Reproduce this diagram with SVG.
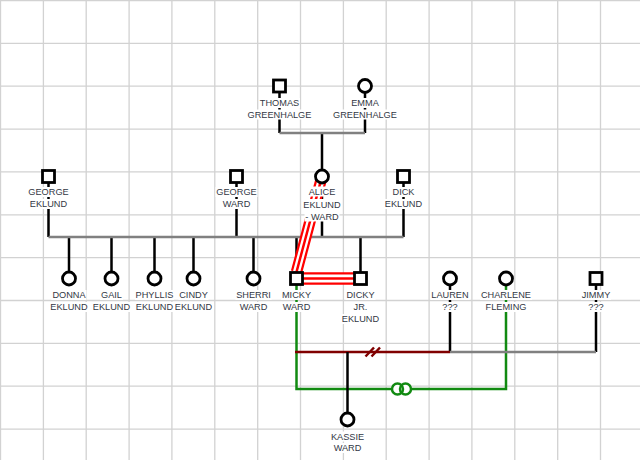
<svg xmlns="http://www.w3.org/2000/svg" width="640" height="460" viewBox="0 0 640 460">
<style>
.grid{stroke:#d2d2d2;stroke-width:1.3;fill:none}
.stem{stroke:#000;stroke-width:2.5;fill:none}
.gray{stroke:#808080;stroke-width:2.5;fill:none}
.green{stroke:#118a11;stroke-width:2.5;fill:none}
.maroon{stroke:#800000;stroke-width:2.5;fill:none}
.node rect.s,.node circle{fill:#fff;stroke:#000;stroke-width:2.8}
.bg{fill:#fff}
text{font-family:"Liberation Sans",Arial,sans-serif;font-size:9.2px;fill:#323844;text-anchor:middle}
</style>
<rect width="640" height="460" fill="#fff"/>
<path class="grid" d="M0.5,0V460M43.4,0V460M86.2,0V460M129.1,0V460M171.9,0V460M214.8,0V460M257.7,0V460M300.5,0V460M343.4,0V460M386.2,0V460M429.1,0V460M471.9,0V460M514.8,0V460M557.7,0V460M600.5,0V460M0,0.5H640M0,43.4H640M0,86.2H640M0,129.1H640M0,171.9H640M0,214.8H640M0,257.7H640M0,300.5H640M0,343.4H640M0,386.2H640M0,429.1H640"/>
<g id="connectors">
<path class="stem" d="M279.5,86V133M365,86V133M322,133V176.5"/>
<path class="gray" d="M279.5,133H365"/>
<path class="stem" d="M48.5,176.5V237M236.5,176.5V237M322,176.5V237M403.5,176.5V237"/>
<path class="stem" d="M69,237V278.5M111.5,237V278.5M154.5,237V278.5M193.5,237V278.5M253.5,237V278.5M296.5,237V278.5M360.5,237V278.5"/>
<path class="gray" d="M48.5,237H403.5"/>
<path class="green" d="M296.5,278.5V389H506V278.5"/>
<path class="stem" d="M450,278.5V352M596,278.5V352"/>
<path class="gray" d="M450,352H596"/>
<path class="maroon" d="M295,352H450"/>
<path class="maroon" d="M365.5,356.5L374,347.5M371.5,356.5L380,347.5"/>
<path class="stem" d="M347.5,352V419.5"/>
<g fill="none">
<path d="M322,176.5L296.5,272" stroke="#f00" stroke-width="11.5"/>
<path d="M322,176.5L296.5,272" stroke="#fff" stroke-width="7"/>
<path d="M322,176.5L296.5,272" stroke="#f00" stroke-width="2.5"/>
<path d="M296.5,278.5H360.5" stroke="#f00" stroke-width="12.5"/>
<path d="M296.5,278.5H360.5" stroke="#fff" stroke-width="8"/>
<path d="M296.5,278.5H360.5" stroke="#f00" stroke-width="2.5"/>
</g>
<circle cx="397.5" cy="389" r="5.5" fill="#fff"/>
<circle cx="405.5" cy="389" r="5.5" fill="#fff"/>
<circle cx="397.5" cy="389" r="5.5" class="green"/>
<circle cx="405.5" cy="389" r="5.5" class="green"/>
</g>
<g id="thomas" class="node"><rect class="s" x="273.5" y="80" width="12" height="12"/>
<rect class="bg" x="259" y="98" width="41" height="10"/><text x="279.5" y="106.2">THOMAS</text>
<rect class="bg" x="247" y="109.5" width="65" height="10"/><text x="279.5" y="117.7">GREENHALGE</text></g>
<g id="emma" class="node"><circle cx="365" cy="86" r="6.5"/>
<rect class="bg" x="350.5" y="98" width="29" height="10"/><text x="365" y="106.2">EMMA</text>
<rect class="bg" x="332.5" y="109.5" width="65" height="10"/><text x="365" y="117.7">GREENHALGE</text></g>
<g id="george-eklund" class="node"><rect class="s" x="42.5" y="170.5" width="12" height="12"/>
<rect class="bg" x="27.5" y="187" width="42" height="10"/><text x="48.5" y="195.2">GEORGE</text>
<rect class="bg" x="29" y="199" width="39" height="10"/><text x="48.5" y="207.2">EKLUND</text></g>
<g id="george-ward" class="node"><rect class="s" x="230.5" y="170.5" width="12" height="12"/>
<rect class="bg" x="215.5" y="187" width="42" height="10"/><text x="236.5" y="195.2">GEORGE</text>
<rect class="bg" x="221.5" y="199" width="30" height="10"/><text x="236.5" y="207.2">WARD</text></g>
<g id="alice" class="node"><circle cx="322" cy="176.5" r="6.5"/>
<rect class="bg" x="308" y="186.5" width="28" height="10"/><text x="322" y="194.7">ALICE</text>
<rect class="bg" x="302.5" y="199" width="39" height="12"/><text x="322" y="207.5">EKLUND</text>
<rect class="bg" x="304.5" y="211" width="35" height="10.5"/><text x="322" y="219.5">- WARD</text></g>
<g id="dick" class="node"><rect class="s" x="397.5" y="170.5" width="12" height="12"/>
<rect class="bg" x="391.5" y="187" width="24" height="10"/><text x="403.5" y="195.2">DICK</text>
<rect class="bg" x="384" y="199" width="39" height="10"/><text x="403.5" y="207.2">EKLUND</text></g>
<g id="donna" class="node"><circle cx="69" cy="278.5" r="6.5"/>
<rect class="bg" x="51.5" y="290" width="35" height="10"/><text x="69" y="298.2">DONNA</text>
<rect class="bg" x="49.5" y="302" width="39" height="10"/><text x="69" y="310.2">EKLUND</text></g>
<g id="gail" class="node"><circle cx="111.5" cy="278.5" r="6.5"/>
<rect class="bg" x="100" y="290" width="23" height="10"/><text x="111.5" y="298.2">GAIL</text>
<rect class="bg" x="92" y="302" width="39" height="10"/><text x="111.5" y="310.2">EKLUND</text></g>
<g id="phyllis" class="node"><circle cx="154.5" cy="278.5" r="6.5"/>
<rect class="bg" x="135" y="290" width="39" height="10"/><text x="154.5" y="298.2">PHYLLIS</text>
<rect class="bg" x="135" y="302" width="39" height="10"/><text x="154.5" y="310.2">EKLUND</text></g>
<g id="cindy" class="node"><circle cx="193.5" cy="278.5" r="6.5"/>
<rect class="bg" x="178.5" y="290" width="30" height="10"/><text x="193.5" y="298.2">CINDY</text>
<rect class="bg" x="174" y="302" width="39" height="10"/><text x="193.5" y="310.2">EKLUND</text></g>
<g id="sherri" class="node"><circle cx="253.5" cy="278.5" r="6.5"/>
<rect class="bg" x="235.5" y="290" width="36" height="10"/><text x="253.5" y="298.2">SHERRI</text>
<rect class="bg" x="238.5" y="302" width="30" height="10"/><text x="253.5" y="310.2">WARD</text></g>
<g id="micky" class="node"><rect class="s" x="290.5" y="272.5" width="12" height="12"/>
<rect class="bg" x="281" y="290" width="31" height="10"/><text x="296.5" y="298.2">MICKY</text>
<rect class="bg" x="281.5" y="302" width="30" height="10"/><text x="296.5" y="310.2">WARD</text></g>
<g id="dicky" class="node"><rect class="s" x="354.5" y="272.5" width="12" height="12"/>
<rect class="bg" x="345.5" y="290" width="30" height="10"/><text x="360.5" y="298.2">DICKY</text>
<rect class="bg" x="352.5" y="302" width="16" height="10"/><text x="360.5" y="310.2">JR.</text>
<rect class="bg" x="341" y="314" width="39" height="10"/><text x="360.5" y="322.2">EKLUND</text></g>
<g id="lauren" class="node"><circle cx="450" cy="278.5" r="6.5"/>
<rect class="bg" x="430.5" y="290" width="39" height="10"/><text x="450" y="298.2">LAUREN</text>
<rect class="bg" x="441.5" y="302" width="17" height="10"/><text x="450" y="310.2">???</text></g>
<g id="charlene" class="node"><circle cx="506" cy="278.5" r="6.5"/>
<rect class="bg" x="480" y="290" width="52" height="10"/><text x="506" y="298.2">CHARLENE</text>
<rect class="bg" x="485" y="302" width="42" height="10"/><text x="506" y="310.2">FLEMING</text></g>
<g id="jimmy" class="node"><rect class="s" x="590" y="272.5" width="12" height="12"/>
<rect class="bg" x="581" y="290" width="30" height="10"/><text x="596" y="298.2">JIMMY</text>
<rect class="bg" x="587.5" y="302" width="17" height="10"/><text x="596" y="310.2">???</text></g>
<g id="kassie" class="node"><circle cx="347.5" cy="419.5" r="6.5"/>
<rect class="bg" x="330" y="431.5" width="35" height="10"/><text x="347.5" y="439.7">KASSIE</text>
<rect class="bg" x="332.5" y="443" width="30" height="10"/><text x="347.5" y="451.2">WARD</text></g>
</svg>
